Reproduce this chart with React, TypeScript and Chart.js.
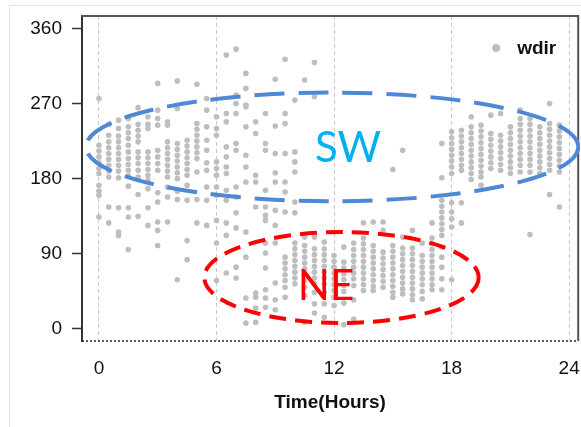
import React, { useEffect, useRef } from "react";
import { Chart, registerables } from "chart.js";

Chart.register(...registerables);

// ---------- data ----------
const hourTicks = [0, 6, 12, 18, 24];
const dirTicks = [0, 90, 180, 270, 360];
const xTitle = "Time(Hours)";
const seriesName = "wdir";

const hours = [
  0, 0.5, 1, 1.5, 2, 2.5, 3, 3.5, 4, 4.5, 5, 5.5, 6, 6.5, 7, 7.5, 8, 8.5, 9, 9.5, 10, 10.5, 11, 11.5,
  12, 12.5, 13, 13.5, 14, 14.5, 15, 15.5, 16, 16.5, 17, 17.5, 18, 18.5, 19, 19.5, 20, 20.5, 21, 21.5,
  22, 22.5, 23, 23.5,
];

const wdir: number[][] = [
  [276, 220, 213, 206, 199, 192, 186, 172, 165, 160, 134],
  [245, 232, 224, 217, 210, 203, 196, 189, 182, 146, 127],
  [250, 240, 231, 224, 217, 210, 203, 196, 189, 181, 145, 116, 112],
  [252, 242, 235, 228, 220, 212, 204, 197, 190, 183, 171, 145, 134, 95],
  [265, 245, 238, 231, 224, 212, 205, 198, 190, 182, 161, 135],
  [254, 245, 240, 212, 205, 198, 191, 184, 178, 168, 145, 124],
  [294, 262, 252, 244, 214, 206, 198, 190, 163, 152, 128, 118, 100],
  [248, 244, 224, 217, 210, 203, 196, 189, 182, 170, 158, 128],
  [297, 264, 222, 215, 208, 201, 194, 187, 180, 165, 155, 59],
  [226, 219, 212, 205, 198, 191, 184, 172, 154, 106, 83],
  [293, 246, 239, 232, 225, 218, 211, 204, 188, 155, 127],
  [276, 262, 242, 226, 214, 199, 190, 170, 154, 124],
  [254, 240, 232, 200, 192, 184, 170, 160, 130, 103, 58],
  [328, 258, 248, 218, 206, 194, 186, 166, 154, 127, 112, 67],
  [335, 280, 270, 258, 222, 214, 170, 158, 139, 121, 74, 61],
  [306, 288, 266, 242, 208, 194, 176, 116, 86, 37, 7],
  [248, 234, 184, 176, 146, 43, 38, 25, 8],
  [258, 222, 214, 166, 146, 136, 130, 103, 91, 73, 47, 37, 26],
  [299, 243, 210, 187, 176, 142, 124, 103, 55, 35, 23],
  [323, 246, 210, 176, 164, 140, 86, 79, 72, 65, 58, 50, 38],
  [274, 212, 200, 188, 152, 139, 103, 96, 89, 82, 75, 68, 61, 54],
  [298, 110, 100, 93, 86, 79, 72, 65, 58, 50, 40, 8],
  [319, 278, 110, 96, 89, 82, 75, 68, 61, 54, 44, 30, 19],
  [104, 96, 89, 82, 75, 68, 61, 54, 44, 30, 14],
  [88, 81, 74, 67, 60, 53, 46, 38, 28],
  [98, 80, 73, 66, 59, 52, 45, 31, 5],
  [103, 95, 88, 81, 74, 67, 60, 52, 35, 12],
  [127, 109, 102, 95, 88, 81, 74, 67, 60, 53, 46],
  [128, 100, 93, 86, 79, 72, 65, 58, 51, 46],
  [128, 118, 92, 85, 78, 71, 64, 57, 50],
  [100, 93, 86, 79, 72, 65, 58, 51, 44, 38],
  [214, 110, 97, 90, 83, 76, 69, 62, 55, 48, 42],
  [118, 97, 90, 83, 76, 69, 62, 55, 48, 41, 35],
  [103, 88, 81, 74, 67, 60, 53, 45, 36],
  [127, 109, 102, 95, 88, 81, 74, 67, 60, 53, 47],
  [222, 181, 154, 147, 140, 133, 126, 119, 112, 98, 86, 74, 60, 47],
  [236, 229, 222, 215, 208, 201, 194, 186, 151, 140, 132, 122, 59],
  [238, 231, 224, 217, 210, 203, 196, 190, 151, 127],
  [254, 242, 235, 228, 221, 214, 207, 200, 193, 186, 179],
  [244, 237, 230, 223, 216, 209, 202, 195, 188, 182, 172],
  [256, 234, 227, 220, 213, 206, 199, 192],
  [258, 232, 225, 218, 211, 204, 197, 190],
  [242, 235, 228, 221, 214, 207, 200, 193, 186],
  [262, 252, 245, 238, 231, 224, 217, 210, 203, 196, 188],
  [252, 245, 238, 231, 224, 217, 210, 203, 196, 188, 113],
  [242, 235, 228, 221, 214, 207, 200, 193, 186],
  [270, 246, 239, 232, 225, 218, 211, 204, 197, 190, 161],
  [244, 237, 230, 223, 216, 209, 202, 195, 188, 146],
];

const strayHours = [15, 7.5, 9.5];
const strayDirs = [191, 268, 258];

// ---------- annotations (data units) ----------
const ellipses = [
  { hour: 11.9, dir: 218, rxHours: 12.56, ryDeg: 65, color: "#4F88D6", dash: [30, 14] },
  { hour: 12.38, dir: 61.6, rxHours: 7.0, ryDeg: 54.4, color: "#FF0000", dash: [17, 9] },
];
const regionLabels = [
  { text: "SW", hour: 12.71, dir: 199.7, color: "#00B0F0" },
  { text: "NE", hour: 11.59, dir: 34.7, color: "#FF0000" },
];

const pointColor = "#BEBEBE";

function buildPoints() {
  const pts: { x: number; y: number }[] = [];
  hours.forEach((h, i) => {
    (wdir[i] || []).forEach((d) => pts.push({ x: h, y: d }));
  });
  strayHours.forEach((h, i) => pts.push({ x: h, y: strayDirs[i] }));
  return pts;
}

const overlayPlugin = {
  id: "overlay",
  afterDatasetsDraw(chart: any) {
    const { ctx, chartArea, scales } = chart;
    const xs = scales.x;
    const ys = scales.y;
    ctx.save();
    // bottom dotted border
    ctx.setLineDash([2, 2]);
    ctx.strokeStyle = "#222";
    ctx.lineWidth = 1.5;
    ctx.beginPath();
    ctx.moveTo(chartArea.left, chartArea.bottom);
    ctx.lineTo(chartArea.right, chartArea.bottom);
    ctx.stroke();
    // top & right border
    ctx.setLineDash([]);
    ctx.strokeStyle = "#555";
    ctx.lineWidth = 2;
    ctx.beginPath();
    ctx.moveTo(chartArea.left, chartArea.top);
    ctx.lineTo(chartArea.right, chartArea.top);
    ctx.lineTo(chartArea.right, chartArea.bottom);
    ctx.stroke();

    // ellipses
    ellipses.forEach((e) => {
      const cx = xs.getPixelForValue(e.hour);
      const cy = ys.getPixelForValue(e.dir);
      const rx = Math.abs(xs.getPixelForValue(e.hour + e.rxHours) - cx);
      const ry = Math.abs(ys.getPixelForValue(e.dir + e.ryDeg) - cy);
      ctx.setLineDash(e.dash);
      ctx.strokeStyle = e.color;
      ctx.lineWidth = 4;
      ctx.beginPath();
      ctx.ellipse(cx, cy, rx, ry, 0, 0, Math.PI * 2);
      ctx.stroke();
    });
    ctx.setLineDash([]);

    // region labels
    ctx.font = "42px Lato";
    ctx.textAlign = "center";
    ctx.textBaseline = "alphabetic";
    regionLabels.forEach((l) => {
      ctx.fillStyle = l.color;
      ctx.fillText(l.text, xs.getPixelForValue(l.hour), ys.getPixelForValue(l.dir));
    });

    // legend
    const lx = chartArea.right - 82;
    const ly = chartArea.top + 32;
    ctx.fillStyle = pointColor;
    ctx.beginPath();
    ctx.arc(lx, ly, 4, 0, Math.PI * 2);
    ctx.fill();
    ctx.fillStyle = "#111";
    ctx.font = "bold 19px 'Liberation Sans', Arial, sans-serif";
    ctx.textAlign = "left";
    ctx.textBaseline = "middle";
    ctx.fillText(seriesName, lx + 21, ly + 1);
    ctx.restore();
  },
};

export default function App() {
  const ref = useRef<HTMLCanvasElement | null>(null);

  useEffect(() => {
    if (!ref.current) return;
    const tickFont = { family: "'Liberation Sans', Arial, sans-serif", size: 19 };
    const chart = new Chart(ref.current, {
      type: "scatter",
      data: {
        datasets: [
          {
            label: seriesName,
            data: buildPoints(),
            backgroundColor: pointColor,
            borderColor: pointColor,
            borderWidth: 0,
            pointRadius: 2.8,
            pointHoverRadius: 2.8,
          },
        ],
      },
      options: {
        animation: false,
        responsive: false,
        devicePixelRatio: 1,
        layout: { padding: { left: 0, top: 16, right: 1, bottom: 0 } },
        plugins: { legend: { display: false }, tooltip: { enabled: false } },
        scales: {
          x: {
            type: "linear",
            min: -0.864,
            max: 24.46,
            afterBuildTicks: (s: any) => {
              s.ticks = hourTicks.map((v) => ({ value: v }));
            },
            afterFit: (s: any) => {
              s.height = 86;
              s.paddingLeft = 0;
              s.paddingRight = 0;
            },
            ticks: { font: tickFont, color: "#111", padding: 16, maxRotation: 0, autoSkip: false },
            grid: { color: "#C8C8C8", lineWidth: 1, drawTicks: false },
            border: { display: false, dash: [4, 3] },
            title: {
              display: true,
              text: xTitle,
              font: { family: "'Liberation Sans', Arial, sans-serif", size: 19, weight: "bold" },
              color: "#111",
              padding: { top: 0, bottom: 13 },
            },
          },
          y: {
            type: "linear",
            min: -14.4,
            max: 374.7,
            afterBuildTicks: (s: any) => {
              s.ticks = dirTicks.map((v) => ({ value: v }));
            },
            afterFit: (s: any) => {
              s.width = 82;
              s.paddingTop = 0;
              s.paddingBottom = 0;
            },
            ticks: { font: tickFont, color: "#111", padding: 10, autoSkip: false },
            grid: {
              drawOnChartArea: false,
              drawTicks: true,
              tickLength: 10,
              tickColor: "#333",
              tickWidth: 1.5,
            },
            border: { display: true, color: "#333", width: 2 },
          },
        },
      },
      plugins: [overlayPlugin],
    } as any);
    return () => chart.destroy();
  }, []);

  return (
    <div style={{ position: "absolute", left: 0, top: 0, width: 581, height: 427, background: "#fff", overflow: "hidden" }}>
      <div
        style={{
          position: "absolute",
          left: 9,
          top: 5,
          width: 700,
          height: 600,
          borderLeft: "1px solid #E3E3E3",
          borderTop: "1px solid #E3E3E3",
        }}
      />
      <canvas ref={ref} width={581} height={427} style={{ position: "absolute", left: 0, top: 0 }} />
    </div>
  );
}
